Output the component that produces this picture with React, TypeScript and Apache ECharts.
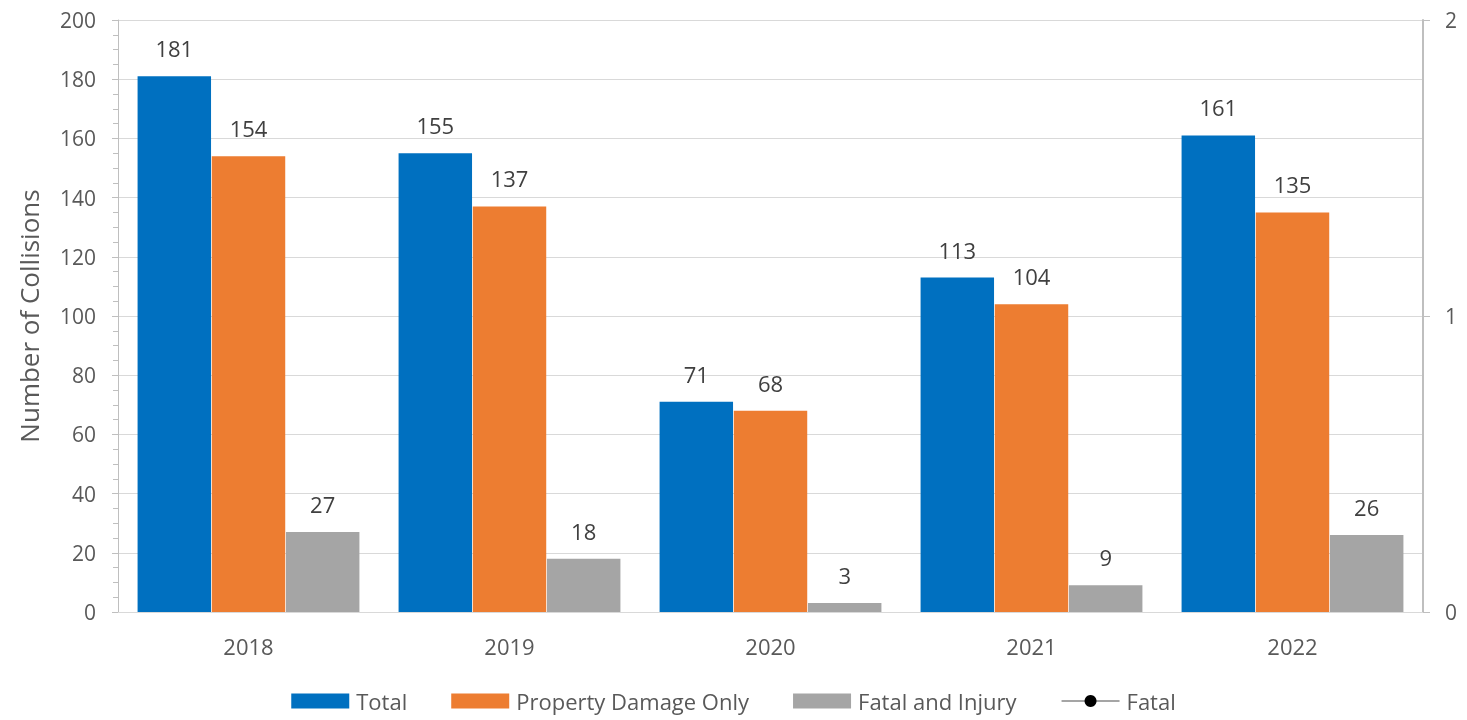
import React, { useEffect, useRef } from "react";
import * as echarts from "echarts";

const years = ["2018", "2019", "2020", "2021", "2022"];
const total = [181, 155, 71, 113, 161];
const propertyDamage = [154, 137, 68, 104, 135];
const fatalInjury = [27, 18, 3, 9, 26];
const fatal: (number | null)[] = [null, null, null, null, null];

const FONT = "'Open Sans', 'Noto Sans', sans-serif";

export default function App() {
  const ref = useRef<HTMLDivElement>(null);
  useEffect(() => {
    if (!ref.current) return;
    const chart = echarts.init(ref.current, undefined, { renderer: "svg" });
    const label = {
      show: true,
      position: "top" as const,
      distance: 17,
      color: "#404040",
      fontSize: 22,
      fontFamily: FONT,
    };
    chart.setOption({
      animation: false,
      textStyle: { fontFamily: FONT },
      grid: { left: 118, right: 44, top: 20, bottom: 108, containLabel: false },
      legend: {
        top: 685,
        left: "center",
        itemWidth: 58,
        itemHeight: 15,
        itemGap: 44,
        textStyle: { color: "#595959", fontSize: 22, fontFamily: FONT, padding: [0, 0, 0, 2] },
        data: [
          { name: "Total", icon: "rect" },
          { name: "Property Damage Only", icon: "rect" },
          { name: "Fatal and Injury", icon: "rect" },
          { name: "Fatal" },
        ],
      },
      xAxis: {
        type: "category",
        data: years,
        axisLine: { lineStyle: { color: "#D9D9D9", width: 1 } },
        axisTick: { show: false },
        axisLabel: { color: "#595959", fontSize: 22, margin: 23, fontFamily: FONT },
      },
      yAxis: [
        {
          type: "value",
          min: 0,
          max: 200,
          interval: 20,
          name: "Number of Collisions",
          nameLocation: "middle",
          nameGap: 76,
          nameTextStyle: { color: "#595959", fontSize: 26, fontFamily: FONT },
          axisLine: { show: true, lineStyle: { color: "#BFBFBF" } },
          axisTick: { show: true, inside: false, length: 6, lineStyle: { color: "#BFBFBF" } },
          minorTick: { show: true, splitNumber: 4, length: 5, lineStyle: { color: "#BFBFBF" } },
          splitLine: { show: true, lineStyle: { color: "#D9D9D9" } },
          axisLabel: { color: "#595959", fontSize: 21, margin: 22, fontFamily: FONT },
        },
        {
          type: "value",
          min: 0,
          max: 2,
          interval: 1,
          position: "right",
          axisLine: { show: true, lineStyle: { color: "#BFBFBF", width: 2 } },
          axisTick: { show: true, length: 7, lineStyle: { color: "#BFBFBF" } },
          splitLine: { show: false },
          axisLabel: { color: "#595959", fontSize: 21, margin: 22, fontFamily: FONT },
        },
      ],
      series: [
        {
          name: "Total",
          type: "bar",
          data: total,
          itemStyle: { color: "#0070C0" },
          barGap: "1%",
          barCategoryGap: "15%",
          label,
        },
        {
          name: "Property Damage Only",
          type: "bar",
          data: propertyDamage,
          itemStyle: { color: "#ED7D31" },
          barGap: "1%",
          barCategoryGap: "15%",
          label,
        },
        {
          name: "Fatal and Injury",
          type: "bar",
          data: fatalInjury,
          itemStyle: { color: "#A5A5A5" },
          barGap: "1%",
          barCategoryGap: "15%",
          label,
        },
        {
          name: "Fatal",
          type: "line",
          yAxisIndex: 1,
          data: fatal,
          symbol: "circle",
          symbolSize: 10,
          itemStyle: { color: "#000000" },
          lineStyle: { color: "#A5A5A5", width: 4 },
        },
      ],
    });
    return () => chart.dispose();
  }, []);
  return (
    <div
      ref={ref}
      style={{ position: "fixed", left: 0, top: 0, width: 1467, height: 720 }}
    />
  );
}
